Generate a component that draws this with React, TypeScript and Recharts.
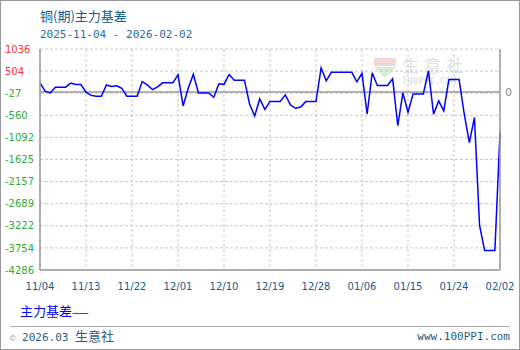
import React from "react";
import { LineChart, Line, XAxis, YAxis, CartesianGrid, ReferenceLine } from "recharts";

// daily copper main-contract basis, 2025-11-04 .. 2026-02-02
const START_DATE = "2025-11-04";
const BASIS = [
    221, 20, -21, 117, 117, 117, 214, 180, 180, -4,
    -81, -101, -101, 170, 135, 150, 90, -101, -101, -101,
    252, 173, 59, 124, 221, 221, 221, 414, -335, 90,
    427, -21, -21, -21, -125, 197, 185, 422, 286, 286,
    286, -287, -577, -166, -420, -227, -227, -227, -69, -311,
    -391, -360, -231, -231, -231, 584, 269, 475, 475, 475,
    475, 475, 245, 451, -529, 463, 156, 156, 156, 318,
    -812, -21, -488, -45, -45, -45, 511, -536, -214, -456,
    301, 301, 301, -529, -1218, -614, -3214, -3819, -3819, -3819,
    -976,
];
const X_TICKS = ["11/04", "11/13", "11/22", "12/01", "12/10", "12/19", "12/28", "01/06", "01/15", "01/24", "02/02"];
const Y_TICKS = [1036, 504, -27, -560, -1092, -1625, -2157, -2689, -3222, -3754, -4286];

const pad = (n: number) => (n < 10 ? "0" + n : "" + n);

const data = BASIS.map((v, i) => {
    const d = new Date(START_DATE + "T00:00:00Z");
    d.setUTCDate(d.getUTCDate() + i);
    return { label: pad(d.getUTCMonth() + 1) + "/" + pad(d.getUTCDate()), basis: v };
});

const AXIS = "#9a9a9a";
const GRID = "#c8c8c8";
const DARK_BLUE = "#135d8d";

const YTick = (props: any) => {
    const { x, y, payload } = props;
    const v = payload.value;
    return (
        <text x={x - 35} y={y} dy="0.36em" textAnchor="start" fontSize={10}
            fontFamily="DejaVu Sans" fill={v > 0 ? "#ff3333" : "#33aa33"}>
            {v}
        </text>
    );
};

export default function App() {
    return (
        <div style={{ position: "absolute", left: 0, top: 0, width: 520, height: 350, background: "#fff", overflow: "hidden" }}>
            <div style={{ position: "absolute", left: 40, top: 8, fontSize: 13, lineHeight: "16px", color: DARK_BLUE, fontFamily: "Noto Sans CJK SC" }}>
                铜(期)主力基差
            </div>
            <div style={{ position: "absolute", left: 40, top: 29, fontSize: 11, lineHeight: "12px", color: "#2b6c9b", fontFamily: "DejaVu Sans Mono" }}>
                2025-11-04 - 2026-02-02
            </div>

            {/* watermark */}
            <div style={{ position: "absolute", left: 374, top: 58, width: 22, height: 8, background: "#f3d6d6" }} />
            <div style={{ position: "absolute", left: 374, top: 67, width: 0, height: 0, borderLeft: "11px solid transparent", borderRight: "11px solid transparent", borderTop: "11px solid #d6ecd6" }} />
            <div style={{ position: "absolute", left: 402, top: 55, fontSize: 17, lineHeight: "20px", letterSpacing: 5, color: "#dde3ea", fontFamily: "Noto Sans CJK SC" }}>
                生意社
            </div>
            <div style={{ position: "absolute", left: 402, top: 76, fontSize: 9, lineHeight: "10px", color: "#d5dbe2", fontFamily: "DejaVu Sans Mono" }}>
                100PPI.COM
            </div>

            <div style={{ position: "absolute", left: 0, top: 0 }}>
                <LineChart width={520} height={350} data={data} margin={{ top: 49, right: 0, bottom: 50, left: 0 }}>
                    <CartesianGrid stroke={GRID} strokeDasharray="3 2" />
                    <XAxis dataKey="label" ticks={X_TICKS} interval={0} height={30}
                        tickLine={false} tickSize={0} tickMargin={13}
                        axisLine={{ stroke: AXIS, strokeWidth: 1.5 }}
                        tick={{ fill: DARK_BLUE, fontSize: 10, fontFamily: "DejaVu Sans" }} />
                    <YAxis type="number" domain={[-4286, 1036]} ticks={Y_TICKS} width={40}
                        tickLine={false} tickSize={0} tickMargin={0} interval={0}
                        axisLine={{ stroke: AXIS, strokeWidth: 1.5 }} tick={<YTick />} />
                    <YAxis yAxisId="r" orientation="right" type="number" domain={[-4286, 1036]} width={20}
                        tick={false} tickLine={false} axisLine={{ stroke: AXIS, strokeWidth: 1.5 }} />
                    <ReferenceLine y={0} stroke={AXIS} strokeWidth={1.5}
                        label={{ value: "0", position: "right", fill: "#888", fontSize: 11, fontFamily: "DejaVu Sans" }} />
                    <Line type="linear" dataKey="basis" stroke="#0000ff" strokeWidth={1.5}
                        dot={false} isAnimationActive={false} />
                </LineChart>
            </div>

            <div style={{ position: "absolute", left: 20, top: 303, fontSize: 13, lineHeight: "15px", color: "#0000ff", fontFamily: "Noto Sans CJK SC" }}>
                主力基差<span style={{ fontSize: 10 }}>——</span>
            </div>

            <div style={{ position: "absolute", left: 10, top: 326, width: 500, borderTop: "1px solid #aaa" }} />
            <div style={{ position: "absolute", left: 10, top: 328, fontSize: 11, lineHeight: "15px", color: "#2c5c7c", fontFamily: "DejaVu Sans Mono", whiteSpace: "pre" }}>
                <span style={{ fontSize: 9, color: "#9aaab8" }}>©</span> 2026.03 <span style={{ fontSize: 13, fontFamily: "Noto Sans CJK SC" }}>生意社</span>
            </div>
            <div style={{ position: "absolute", right: 10, top: 330, fontSize: 11, lineHeight: "13px", color: "#2c5c7c", fontFamily: "DejaVu Sans Mono" }}>
                www.100PPI.com
            </div>

            <div style={{ position: "absolute", left: 0, top: 0, width: 520, height: 350, boxSizing: "border-box", border: "1px solid #999", pointerEvents: "none" }} />
        </div>
    );
}
